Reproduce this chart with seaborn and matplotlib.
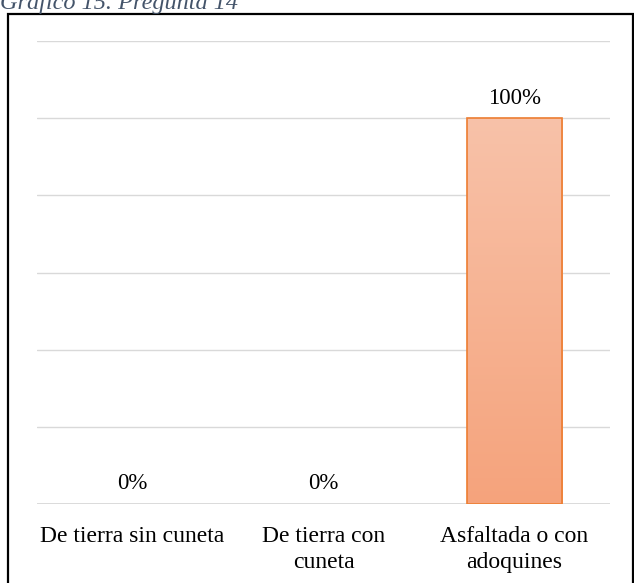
import matplotlib
matplotlib.use("Agg")
import matplotlib.pyplot as plt
import matplotlib.patches as mpatches
import numpy as np
import pandas as pd
import seaborn as sns

categories = ["De tierra sin cuneta", "De tierra con\ncuneta", "Asfaltada o con\nadoquines"]
values = [0, 0, 100]
value_labels = ["0%", "0%", "100%"]
title = "Gráfico 15. Pregunta 14"

sns.set_theme(style="white")
plt.rcParams["font.family"] = ["Liberation Serif", "DejaVu Serif"]

W, H = 634, 583
fig = plt.figure(figsize=(W / 100, H / 100), dpi=100)
ax = fig.add_axes([37 / W, 1 - 504 / H, (610 - 37) / W, (504 - 41) / H])

df = pd.DataFrame({"cat": categories, "val": values})
sns.barplot(data=df, x="cat", y="val", ax=ax, width=0.5, color="#F6AE8C",
            edgecolor="#ED7D31", linewidth=1.2, saturation=1)

ax.set_ylim(0, 120)
ax.set_yticks(np.arange(0, 121, 20))
ax.yaxis.grid(True, color="#D9D9D9", linewidth=1.0)
ax.set_axisbelow(True)
for s in ax.spines.values():
    s.set_visible(False)
ax.axhline(0, color="#D9D9D9", linewidth=1.3, zorder=1)
ax.set_yticklabels([])
ax.tick_params(axis="both", length=0)
ax.set_xlabel("")
ax.set_ylabel("")
ax.set_xticks(range(len(categories)))
ax.set_xticklabels(categories, fontsize=17, color="black", linespacing=1.3)
ax.tick_params(axis="x", pad=16)

# gradient fill for bars
grad = np.linspace(0, 1, 256).reshape(-1, 1)
top = np.array(matplotlib.colors.to_rgb("#F8C2A9"))
bot = np.array(matplotlib.colors.to_rgb("#F5A37C"))
img = top[None, None, :] * (1 - grad[..., None]) + bot[None, None, :] * grad[..., None]
img = img.reshape(256, 1, 3)
for p in ax.patches:
    h = p.get_height()
    if h <= 0:
        p.set_visible(False)
        continue
    x0, w = p.get_x(), p.get_width()
    im = ax.imshow(img, extent=[x0, x0 + w, 0, h], aspect="auto", zorder=2,
                   origin="upper")
    im.set_clip_path(p)
    p.set_facecolor("none")
    p.set_zorder(3)
ax.set_xlim(-0.5, len(categories) - 0.5)
ax.set_ylim(0, 120)

for i, (v, lab) in enumerate(zip(values, value_labels)):
    ax.annotate(lab, xy=(i, v), xytext=(0, 14.5), textcoords="offset points",
                ha="center", va="center", fontsize=16.5, color="black")

fig.text(0 / W, 1 - 9 / H, title, fontsize=17.5, style="italic",
         color="#44546A", ha="left", va="baseline")

border = mpatches.Rectangle((7.5 / W, -0.05), (632.5 - 7.5) / W, 1 - 13.5 / H + 0.05,
                            transform=fig.transFigure, fill=False,
                            edgecolor="black", linewidth=1.6, clip_on=False)
fig.patches.append(border)

fig.savefig("out.png", dpi=100)
